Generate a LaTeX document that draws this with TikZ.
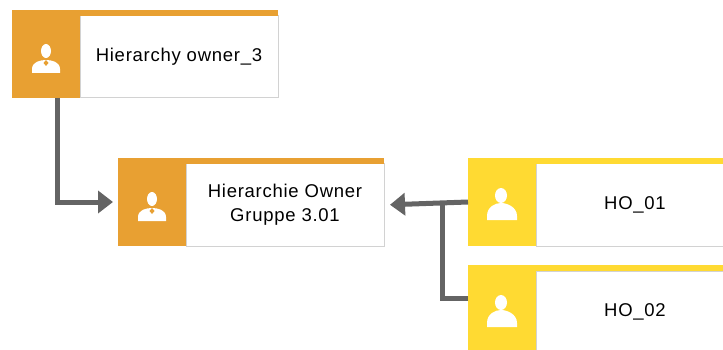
\documentclass[tikz,border=0pt]{standalone}
\usepackage{fontspec}
\setmainfont[LetterSpace = 4]{Liberation Sans}
\usetikzlibrary{arrows.meta}
\definecolor{ownorange}{RGB}{232,160,50}
\definecolor{hoyellow}{RGB}{255,218,50}
\definecolor{linegray}{RGB}{100,100,100}
\begin{document}
\begin{tikzpicture}[x = 1pt, y = -1pt,
	icon/.style = {minimum width = 68pt, minimum height = 88pt, inner sep = 0pt, outer sep = 0pt},
	label/.style = {draw = gray!35, line width = 1pt, fill = white, anchor = south west, minimum width = 198pt, minimum height = 82pt, inner sep = 0pt, outer sep = 0pt, align = center, font = \fontsize{18.5}{24}\selectfont},
	conn/.style = {draw = linegray, line width = 5pt},
	arr/.style = {conn, -{Triangle[length = 15pt, width = 22pt]}}]
		\clip (0,0) rectangle (723,350);
		% owner boxes
		\node[icon, fill = ownorange] (own3i) at (46,54) {};
		\node[label] (own3) at (own3i.south east) {Hierarchy owner\_3};
		\fill[ownorange] (own3i.north west) rectangle (own3.north east);
		\node[icon, fill = ownorange] (grpi) at (152,202) {};
		\node[label] (grp) at (grpi.south east) {Hierarchie Owner\\Gruppe 3.01};
		\fill[ownorange] (grpi.north west) rectangle (grp.north east);
		% HO boxes
		\node[icon, fill = hoyellow] (ho1i) at (502,202) {};
		\node[label] (ho1) at (ho1i.south east) {HO\_01};
		\fill[hoyellow] (ho1i.north west) rectangle (ho1.north east);
		\node[icon, fill = hoyellow] (ho2i) at (502,309) {};
		\node[label] (ho2) at (ho2i.south east) {HO\_02};
		\fill[hoyellow] (ho2i.north west) rectangle (ho2.north east);
		% person icons
		\foreach \n in {own3i, grpi} {
			\begin{scope}[shift = {(\n.center)}]
				\fill[white] (0,-3) ellipse [x radius = 5, y radius = 7];
				\fill[white] (-14,19) -- (-14,15) .. controls (-14,8) and (-6,6) .. (0,6) .. controls (6,6) and (14,8) .. (14,15) -- (14,19) -- cycle;
				\fill[ownorange] (0,6) -- (2.5,9) -- (0,12) -- (-2.5,9) -- cycle;
			\end{scope}
		}
		\foreach \n in {ho1i, ho2i} {
			\begin{scope}[shift = {(\n.center)}]
				\fill[white] (-1,-6.5) ellipse [x radius = 6, y radius = 7.5];
				\fill[white] (-15,18) -- (-15,14) .. controls (-15,5) and (-7,1) .. (-1,1) .. controls (5,1) and (15,5) .. (15,14) -- (15,18) -- cycle;
			\end{scope}
		}
		% connectors
		\coordinate (jn) at (442,202);
		\draw[arr, shorten > = 5pt] ([xshift = 11.5pt]own3i.south) |- (grpi.west);
		\draw[arr, shorten > = 6pt] (ho1i.west) -- (grp.east);
		\draw[conn] ([yshift = 11pt]ho2i.west) -| (jn);
	\end{tikzpicture}
\end{document}
